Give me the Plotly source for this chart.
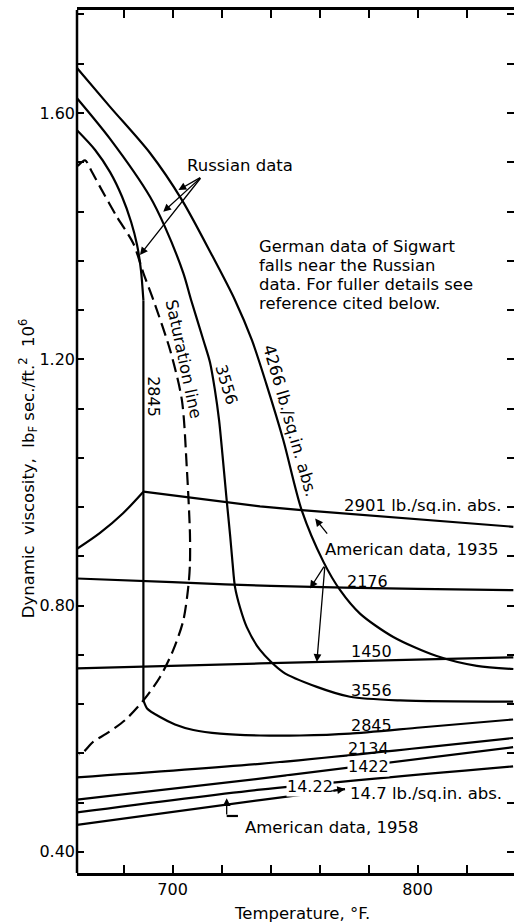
import plotly.graph_objects as go

# Temperature (°F) and dynamic viscosity (lbF sec/ft² × 10^6) along each isobar
t_4266 = [661.0, 674.5, 690.8, 703.8, 716.1, 725.5, 732.4, 738.2, 745.2, 752.7, 761.6,
          768.4, 776.5, 790.1, 807.8, 824.2, 839.1]
mu_4266 = [1.673, 1.610, 1.535, 1.459, 1.369, 1.296, 1.231, 1.161, 1.069, 0.955, 0.871,
           0.825, 0.787, 0.749, 0.718, 0.702, 0.697]

t_3556 = [661.0, 674.5, 690.8, 696.9, 704.4, 707.6, 712.6, 715.3, 717.3, 719.0, 720.4,
          722.1, 723.5, 724.5, 725.5, 727.6, 730.3, 735.7, 745.1, 758.9, 772.4, 792.9, 839.0]
mu_3556 = [1.624, 1.558, 1.464, 1.415, 1.340, 1.296, 1.231, 1.195, 1.150, 1.101, 1.044,
           0.971, 0.914, 0.869, 0.830, 0.796, 0.765, 0.728, 0.692, 0.668, 0.652, 0.646, 0.644]

# 2845: upper arc, near-vertical drop, then the flat supercritical branch
t_2845 = [661.0, 668.4, 674.5, 679.4, 683.1, 685.5, 687.1, 688.1, 688.2, 688.2, 688.1,
          689.6, 694.9, 701.0, 708.5, 719.4, 735.7, 752.0, 772.4, 801.0, 839.0]
mu_2845 = [1.572, 1.540, 1.504, 1.464, 1.423, 1.386, 1.345, 1.296, 1.000, 0.700, 0.646,
           0.633, 0.619, 0.607, 0.598, 0.592, 0.589, 0.589, 0.592, 0.602, 0.615]

t_sat = [661.3, 664.3, 667.0, 670.4, 677.2, 684.0, 688.1, 692.2, 699.0, 703.8, 705.8,
         707.1, 707.1, 706.5, 704.4, 700.3, 694.9, 688.1, 680.6, 673.0, 667.7, 663.6, 662.0]
mu_sat = [1.514, 1.523, 1.505, 1.480, 1.432, 1.388, 1.340, 1.296, 1.215, 1.134, 1.025,
          0.917, 0.868, 0.833, 0.776, 0.728, 0.684, 0.646, 0.614, 0.592, 0.579, 0.562, 0.558]

t_2901 = [661.0, 670.4, 679.8, 688.1, 722.1, 735.7, 752.7, 839.1]
mu_2901 = [0.892, 0.918, 0.950, 0.985, 0.968, 0.961, 0.955, 0.928]

t_2176 = [661.0, 700.0, 740.0, 800.0, 839.1]
mu_2176 = [0.844, 0.838, 0.832, 0.827, 0.825]

t_1450 = [661.0, 735.7, 839.1]
mu_1450 = [0.698, 0.706, 0.716]

t_2134 = [661.0, 735.7, 839.0]
mu_2134 = [0.521, 0.543, 0.585]

t_1422 = [661.0, 735.7, 839.0]
mu_1422 = [0.485, 0.519, 0.570]

t_14_22 = [661.0, 735.7, 839.0]
mu_14_22 = [0.464, 0.501, 0.539]

t_14_7 = [661.0, 735.7, 770.4]
mu_14_7 = [0.444, 0.484, 0.502]

german_note = ["German data of Sigwart", "falls near the Russian",
               "data. For fuller details see", "reference cited below."]

FONT = "DejaVu Sans"
BLACK = "black"
NUM = 16
WORD = 16.5
LW = 2.2

fig = go.Figure()


def curve(t, mu, dash="solid", shape="spline", smoothing=0.8):
    fig.add_trace(go.Scatter(
        x=t, y=mu, mode="lines",
        line=dict(color=BLACK, width=LW, dash=dash, shape=shape, smoothing=smoothing),
        hoverinfo="skip", showlegend=False))


curve(t_4266, mu_4266)
curve(t_3556, mu_3556)
curve(t_2845[:8], mu_2845[:8])
curve(t_2845[7:11], mu_2845[7:11], shape="linear")
curve(t_2845[10:], mu_2845[10:], smoothing=0.6)
curve(t_sat, mu_sat, dash="13px,6px")
curve(t_2901[:4], mu_2901[:4])
curve(t_2901[3:], mu_2901[3:], shape="linear")
curve(t_2176, mu_2176)
curve(t_1450, mu_1450)
curve(t_2134, mu_2134)
curve(t_1422, mu_1422)
curve(t_14_22, mu_14_22)
curve(t_14_7, mu_14_7)

# horizontal leg of the 1958 pointer
curve([726.7, 722.1], [0.4583, 0.4583], shape="linear")

ann = []


def label(text, x, y, size=WORD, angle=0, xanchor="center", bg=None):
    d = dict(text=text, x=x, y=y, xref="x", yref="y", showarrow=False,
             textangle=angle, xanchor=xanchor, yanchor="middle",
             font=dict(family=FONT, size=size, color=BLACK))
    if bg:
        d["bgcolor"] = bg
        d["borderpad"] = 0
    ann.append(d)


def arrow(x_tip, y_tip, x_tail, y_tail, head=2):
    ann.append(dict(text="", x=x_tip, y=y_tip, ax=x_tail, ay=y_tail,
                    xref="x", yref="y", axref="x", ayref="y", showarrow=True,
                    arrowhead=head, arrowsize=1.2, arrowwidth=1.3, arrowcolor=BLACK,
                    standoff=0))


label("Russian data", 727.6, 1.514)
arrow(702.4, 1.4749, 711.9, 1.4965)
arrow(696.2, 1.4396, 711.9, 1.4965)
arrow(686.7, 1.3693, 711.9, 1.4965)

for i, line in enumerate(german_note):
    label(line, 734.3, 1.3839 - i * 0.0312, size=16.4, xanchor="left")

label("2845", 692.4, 1.1386, size=NUM, angle=90)
label("Saturation line", 704.6, 1.2000, angle=78)
label("3556", 722.2, 1.158, size=NUM, angle=73)
label("4266 lb./sq.in. abs.", 748.0, 1.1012, angle=74)

label("2901 lb./sq.in. abs.", 802.0, 0.9623)
label("American data, 1935", 797.6, 0.8916)
arrow(758.2, 0.9415, 763.6, 0.9144)
arrow(756.1, 0.8278, 762.2, 0.8656)
arrow(758.9, 0.7085, 762.2, 0.8656)

label("2176", 779.6, 0.8396, size=NUM)
label("1450", 781.0, 0.7251, size=NUM)
label("3556", 781.2, 0.6626, size=NUM)
label("2845", 781.0, 0.6057, size=NUM)
label("2134", 780.0, 0.5680, size=NUM)
label("1422", 780.0, 0.5383, size=NUM, bg="white")
label("14.22", 756.3, 0.5066, size=NUM, bg="white")
label("14.7 lb./sq.in. abs.", 771.5, 0.4944, xanchor="left")
arrow(770.4, 0.502, 764.0, 0.4985)
label("American data, 1958", 728.6, 0.4400, xanchor="left")
arrow(722.1, 0.4870, 722.1, 0.4583)

# axis titles (paper fractions of the 437 x 862.7 px plot area)
ann.append(dict(text="Temperature, °F.", x=(302 - 77) / 437, y=-(913 - 872.7) / 862.7,
                xref="paper", yref="paper", xanchor="center", yanchor="middle",
                showarrow=False, font=dict(family=FONT, size=WORD, color=BLACK)))
ann.append(dict(text="Dynamic&nbsp;&nbsp;viscosity,&nbsp;&nbsp;lb<sub>F</sub>&nbsp;sec./ft.<sup>2</sup>&nbsp;&nbsp;10<sup>6</sup>",
                x=(28 - 77) / 437, y=(872.7 - 468) / 862.7, textangle=-90,
                xref="paper", yref="paper", xanchor="center", yanchor="middle",
                showarrow=False, font=dict(family=FONT, size=16.5, color=BLACK)))

fig.update_layout(
    width=514, height=923,
    margin=dict(l=77, r=0, t=10, b=50.3),
    paper_bgcolor="white", plot_bgcolor="white",
    annotations=ann,
    xaxis=dict(range=[661, 839.37], tick0=700, dtick=100, ticks="inside", ticklen=8,
               tickwidth=1.5, tickcolor=BLACK, showline=True, linewidth=2.5,
               linecolor=BLACK, mirror="ticks", showgrid=False, zeroline=False,
               tickfont=dict(family=FONT, size=NUM, color=BLACK),
               minor=dict(dtick=20, ticks="inside", ticklen=8, tickwidth=1.5,
                          tickcolor=BLACK, showgrid=False)),
    yaxis=dict(range=[0.3657, 1.7673], tick0=0.4, dtick=0.4, tickformat=".2f",
               ticks="inside", ticklen=7, tickwidth=1.5, tickcolor=BLACK,
               showline=False, mirror="ticks", showgrid=False, zeroline=False,
               ticklabelstandoff=1,
               tickfont=dict(family=FONT, size=NUM, color=BLACK),
               minor=dict(dtick=0.08, tick0=0, ticks="inside", ticklen=7, tickwidth=1.5,
                          tickcolor=BLACK, showgrid=False)),
    shapes=[dict(type="line", xref="paper", yref="paper", x0=0, x1=0, y0=0, y1=1,
                 line=dict(color=BLACK, width=2.5))],
)

fig.write_html("out.html")
